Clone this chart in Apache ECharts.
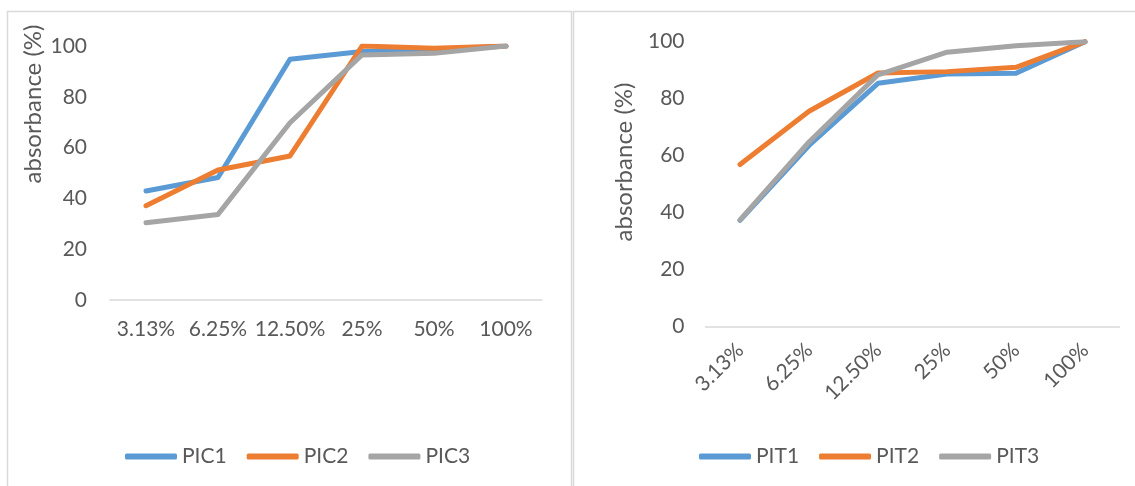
<!DOCTYPE html>
<html>
<head>
<meta charset="utf-8">
<script src="https://cdn.jsdelivr.net/npm/echarts@6/dist/echarts.min.js"></script>
<style>
  html, body { margin: 0; padding: 0; background: #fff; }
  #chart { width: 1135px; height: 486px; }
</style>
</head>
<body>
<div id="chart"></div>
<script>
// Concentration categories shared by both panels
const categories = ['3.13%', '6.25%', '12.50%', '25%', '50%', '100%'];
const yTicks = { min: 0, max: 100, interval: 20 };

// Left panel series
const PIC1 = [42.9, 48.2, 94.8, 97.8, 98.4, 100];
const PIC2 = [37.1, 51.2, 56.7, 100, 99.1, 100];
const PIC3 = [30.4, 33.7, 69.8, 96.5, 97.1, 100];

// Right panel series
const PIT1 = [37.3, 63.6, 85.4, 88.7, 88.9, 100];
const PIT2 = [56.9, 75.6, 89.0, 89.5, 91.0, 100];
const PIT3 = [37.5, 64.8, 88.4, 96.3, 98.6, 100];

const yTitle = 'absorbance (%)';
const FONT = 'Lato';
const TEXT = '#595959';
const AXIS = '#D9D9D9';
const COLORS = ['#5B9BD5', '#ED7D31', '#A5A5A5'];
const TICK_SIZE = 21;

const chart = echarts.init(document.getElementById('chart'), null, { renderer: 'canvas' });

function xAxis(gridIndex, rotate, margin) {
  return {
    type: 'category', gridIndex, data: categories, boundaryGap: true,
    axisLine: { lineStyle: { color: AXIS, width: 1.5 } },
    axisTick: { show: false },
    axisLabel: { color: TEXT, fontFamily: FONT, fontSize: TICK_SIZE, rotate, margin, interval: 0 }
  };
}
function yAxis(gridIndex, margin) {
  return {
    type: 'value', gridIndex, min: yTicks.min, max: yTicks.max, interval: yTicks.interval,
    axisLine: { show: false }, axisTick: { show: false }, splitLine: { show: false },
    axisLabel: { color: TEXT, fontFamily: FONT, fontSize: TICK_SIZE, margin }
  };
}
function line(name, data, idx, axisIdx) {
  return {
    type: 'line', name, data, xAxisIndex: axisIdx, yAxisIndex: axisIdx,
    showSymbol: false, symbol: 'none', silent: true,
    itemStyle: { color: COLORS[idx] },
    lineStyle: { color: COLORS[idx], width: 5, cap: 'round', join: 'round' }
  };
}
function legend(names, left) {
  return {
    data: names, left, top: 441, orient: 'horizontal',
    icon: 'roundRect', itemWidth: 52, itemHeight: 6, itemGap: 20,
    textStyle: { color: TEXT, fontFamily: FONT, fontSize: TICK_SIZE }
  };
}

chart.setOption({
  animation: false,
  backgroundColor: '#fff',
  grid: [
    { left: 110, top: 46, width: 432, height: 254 },
    { left: 705.5, top: 41.7, width: 414, height: 285 }
  ],
  xAxis: [xAxis(0, 0, 19), xAxis(1, 45, 20)],
  yAxis: [yAxis(0, 23), yAxis(1, 21)],
  legend: [legend(['PIC1', 'PIC2', 'PIC3'], 120), legend(['PIT1', 'PIT2', 'PIT3'], 694)],
  series: [
    line('PIC1', PIC1, 0, 0), line('PIC2', PIC2, 1, 0), line('PIC3', PIC3, 2, 0),
    line('PIT1', PIT1, 0, 1), line('PIT2', PIT2, 1, 1), line('PIT3', PIT3, 2, 1)
  ],
  graphic: [
    { type: 'rect', shape: { x: 7.5, y: 11.5, width: 564, height: 500 },
      style: { fill: null, stroke: AXIS, lineWidth: 1.5 }, silent: true, z: -1 },
    { type: 'rect', shape: { x: 573.5, y: 11.5, width: 600, height: 500 },
      style: { fill: null, stroke: AXIS, lineWidth: 1.5 }, silent: true, z: -1 },
    { type: 'text', x: 33, y: 104, rotation: Math.PI / 2,
      style: { text: yTitle, fill: TEXT, font: '24px ' + FONT, align: 'center', verticalAlign: 'middle' } },
    { type: 'text', x: 624, y: 162, rotation: Math.PI / 2,
      style: { text: yTitle, fill: TEXT, font: '24px ' + FONT, align: 'center', verticalAlign: 'middle' } }
  ]
});
</script>
</body>
</html>
